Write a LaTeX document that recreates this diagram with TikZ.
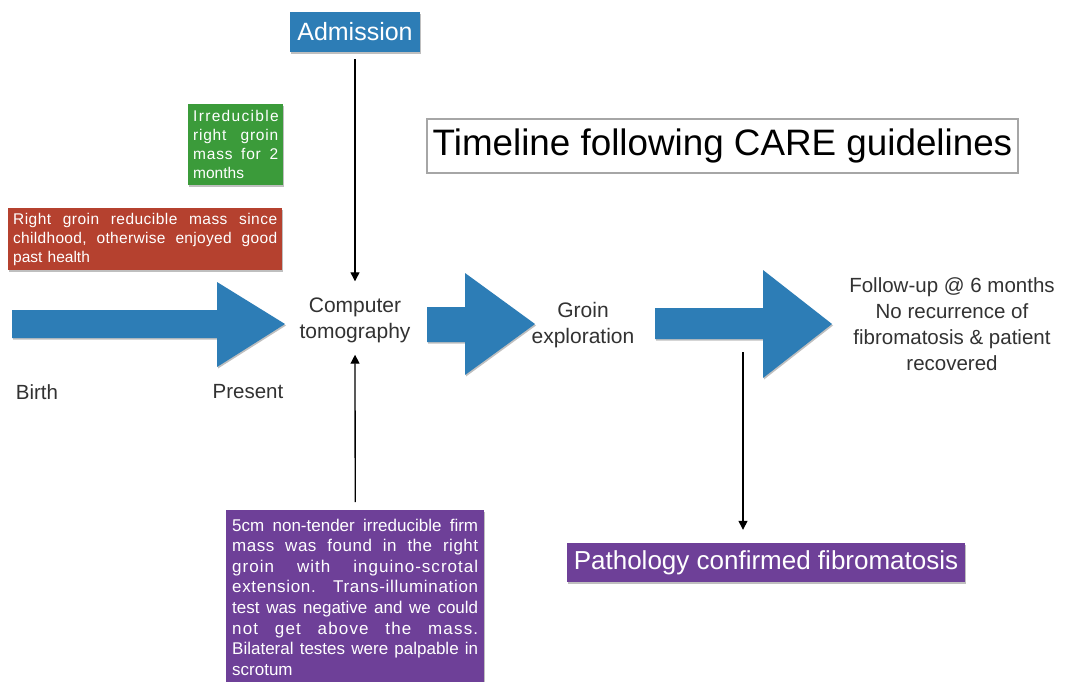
\documentclass[tikz,border=0pt]{standalone}
\usepackage{fontspec}
\setmainfont{Liberation Sans}
\usetikzlibrary{arrows.meta,shadows}

\definecolor{keyblue}{RGB}{45,125,182}
\definecolor{keygreen}{RGB}{59,155,58}
\definecolor{keyred}{RGB}{181,65,47}
\definecolor{keypurple}{RGB}{110,64,152}
\definecolor{labelgray}{RGB}{50,50,50}

% a stretchable word gap and one justified line of a box text,
% with optional letter tracking
\newcommand{\jg}{\hskip 0.25em plus 1fil\relax}
\newcommand{\fillline}[2][0]{\leavevmode\hbox to \hsize{\addfontfeature{LetterSpace=#1}#2}\\}

\tikzset{
  softshadow/.style={drop shadow={shadow xshift=1pt,shadow yshift=-1.5pt,opacity=0.25,fill=black}},
  colbox/.style={inner xsep=5pt,inner ysep=0pt,anchor=north west,text=white,
                 align=left,draw=none,softshadow},
  banner/.style={inner sep=0pt,text=white,draw=none,softshadow},
  plaintext/.style={text=labelgray,align=center,inner sep=0pt},
  bigarrow/.style={fill=keyblue,draw=none,softshadow},
  thinarrow/.style={draw=black,line width=1.3pt,-{Triangle[length=9pt,width=9pt]}}
}

\begin{document}
\begin{tikzpicture}[x=1pt,y=-1pt]
  \fill[white] (0,0) rectangle (1065,681);
  \useasboundingbox (0,0) rectangle (1065,681);

  % title
  \node[draw=black!35,line width=1.5pt,minimum width=591pt,minimum height=54pt,
        inner sep=0pt,text=black,font=\fontsize{36.8}{40}\selectfont]
        (title) at (722.5,146) {Timeline following CARE guidelines};

  % coloured boxes
  \node[banner,fill=keyblue,minimum width=130pt,minimum height=40pt,
        font=\fontsize{25}{28}\selectfont] (admission) at (355,32) {Admission};

  \node[colbox,fill=keygreen,minimum width=95pt,minimum height=81pt,text width=85pt,
        font=\fontsize{15.5}{19}\selectfont] (mass) at (188,104)
        {{\addfontfeature{LetterSpace=8.5}Irreducible}\\
         \fillline[5]{right\jg groin}
         \fillline[5]{mass\jg for\jg 2}
         months};

  \node[colbox,fill=keyred,minimum width=274pt,minimum height=62pt,text width=264pt,
        font=\fontsize{15.5}{19}\selectfont] (history) at (8,208)
        {\fillline[3]{Right\jg groin\jg reducible\jg mass\jg since}
         \fillline[2]{childhood,\jg otherwise\jg enjoyed\jg good}
         past health};

  \node[colbox,inner xsep=6pt,fill=keypurple,minimum width=258pt,minimum height=174pt,
        text width=246pt,font=\fontsize{17}{20.6}\selectfont] (exam) at (226,510)
        {\fillline{5cm\jg non-tender\jg irreducible\jg firm}
         \fillline[3]{mass\jg was\jg found\jg in\jg the\jg right}
         \fillline[6]{groin\jg with\jg inguino-scrotal}
         \fillline[4]{extension.\jg Trans-illumination}
         \fillline{test\jg was\jg negative\jg and\jg we\jg could}
         \fillline[7]{not\jg get\jg above\jg the\jg mass.}
         \fillline{Bilateral\jg testes\jg were\jg palpable\jg in}
         scrotum};

  \node[banner,fill=keypurple,minimum width=398pt,minimum height=39pt,
        font=\fontsize{26}{29}\selectfont] (pathology) at (766,562.5)
        {Pathology confirmed fibromatosis};

  % plain labels
  \node[plaintext,font=\fontsize{21}{26}\selectfont] (ct) at (355,320)
        {Computer\\tomography};
  \node[plaintext,font=\fontsize{21}{26}\selectfont] (groin) at (583,325)
        {Groin\\exploration};
  \node[plaintext,font=\fontsize{20.5}{26}\selectfont] (followup) at (952,324)
        {Follow-up @ 6 months\\No recurrence of\\fibromatosis \& patient\\recovered};
  \node[plaintext,font=\fontsize{20.5}{24}\selectfont] (birth) at (37,392) {Birth};
  \node[plaintext,font=\fontsize{20.5}{24}\selectfont] (present) at (248,392) {Present};

  % timeline arrows
  \fill[bigarrow] (12,310) -- (217,310) -- (217,282) -- (285,324) -- (217,367)
                  -- (217,338) -- (12,338) -- cycle;
  \fill[bigarrow] (427,307) -- (465,307) -- (465,273) -- (535,324) -- (465,375)
                  -- (465,342) -- (427,342) -- cycle;
  \fill[bigarrow] (655,308) -- (763,308) -- (763,270) -- (832,324) -- (763,378)
                  -- (763,339) -- (655,339) -- cycle;

  % connectors
  \draw[thinarrow,shorten <=7pt,shorten >=16pt] (admission) -- (ct);
  \draw[thinarrow,shorten <=8pt,shorten >=12pt] (exam.north) -- (ct);
  \coordinate (split) at (743,352);
  \draw[thinarrow,shorten >=13pt] (split) -- (split |- pathology.north);
\end{tikzpicture}
\end{document}
